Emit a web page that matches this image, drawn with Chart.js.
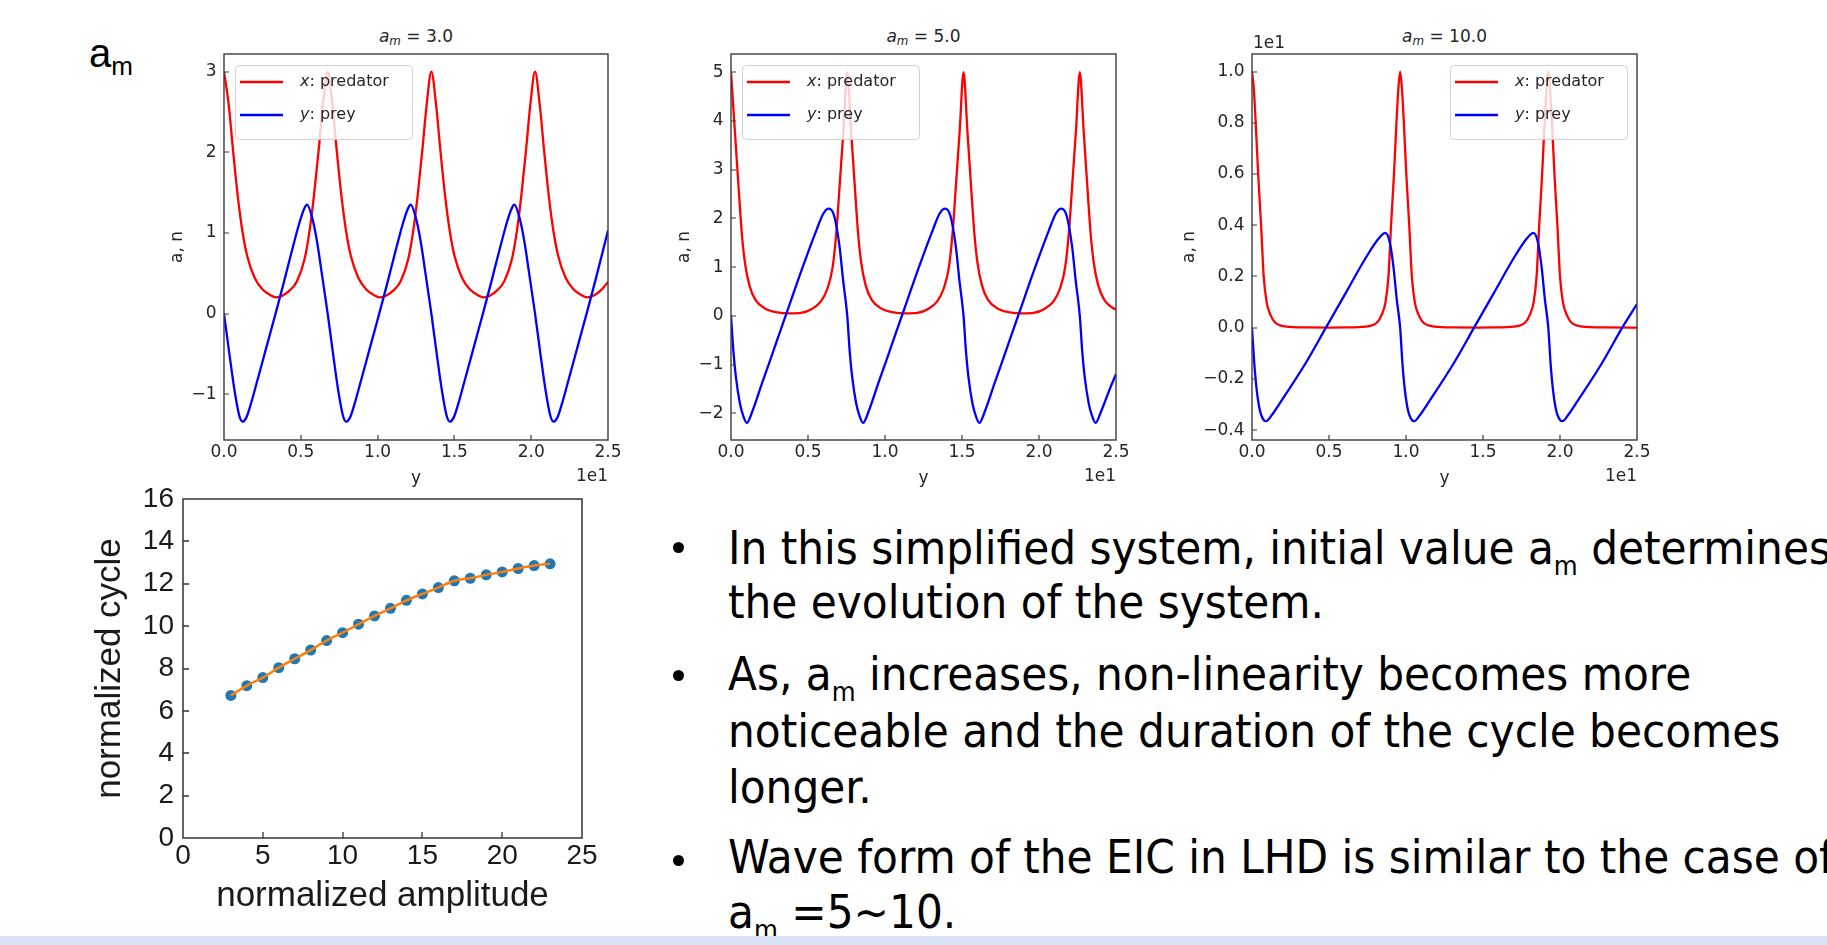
<!DOCTYPE html>
<html><head><meta charset="utf-8">
<script src="https://cdn.jsdelivr.net/npm/chart.js@4.4.1/dist/chart.umd.min.js"></script>
<style>
html,body{margin:0;padding:0;background:#fff;}
body{width:1827px;height:945px;position:relative;overflow:hidden;}
.box{position:absolute;}
.txt{position:absolute;white-space:nowrap;line-height:1;color:#000;}
.slide{font-family:"DejaVu Sans Condensed","DejaVu Sans",sans-serif;font-size:47px;left:728px;}
.slide .sub{font-size:58%;position:relative;top:0.42em;}
.bullet{position:absolute;width:11px;height:11px;border-radius:50%;background:#000;left:673px;}
.ttl{font-family:"DejaVu Sans",sans-serif;font-size:17px;color:#262626;transform:translateX(-50%);top:27.6px;}
.ttl .sub{font-size:70%;position:relative;top:0.3em;}
.am{font-family:"Liberation Sans",Arial,sans-serif;font-size:40px;left:89px;top:33px;}
.am .sub{font-size:65%;position:relative;top:0.3em;}
.strip{position:absolute;left:0;top:936px;width:1827px;height:9px;background:#dae3f3;}
</style>
</head><body>

<div class="txt am">a<span class="sub">m</span></div>

<div class="txt ttl" style="left:416px;"><i>a</i><span class="sub"><i>m</i></span> = 3.0</div>
<div class="txt ttl" style="left:923.5px;"><i>a</i><span class="sub"><i>m</i></span> = 5.0</div>
<div class="txt ttl" style="left:1444.5px;"><i>a</i><span class="sub"><i>m</i></span> = 10.0</div>

<div class="box" style="left:169px;top:30px;"><canvas id="c1" width="459" height="457"></canvas></div>
<div class="box" style="left:676px;top:30px;"><canvas id="c2" width="460" height="457"></canvas></div>
<div class="box" style="left:1181px;top:30px;"><canvas id="c3" width="476" height="457"></canvas></div>
<div class="box" style="left:93px;top:470px;"><canvas id="c4" width="519" height="444"></canvas></div>

<div class="bullet" style="top:541.5px;"></div>
<div class="bullet" style="top:669.5px;"></div>
<div class="bullet" style="top:854.5px;"></div>
<div class="txt slide" style="top:524px;">In this simplified system, initial value a<span class="sub">m</span> determines</div>
<div class="txt slide" style="top:578px;">the evolution of the system.</div>
<div class="txt slide" style="top:650px;">As, a<span class="sub">m</span> increases, non-linearity becomes more</div>
<div class="txt slide" style="top:707px;">noticeable and the duration of the cycle becomes</div>
<div class="txt slide" style="top:763px;">longer.</div>
<div class="txt slide" style="top:833px;">Wave form of the EIC in LHD is similar to the case of</div>
<div class="txt slide" style="top:888px;">a<span class="sub">m</span> =5~10.</div>

<div class="strip"></div>

<script>
// ---------------- data ----------------
const X_TICKS = [0, 5, 10, 15, 20, 25];
const P1_YTICKS = [-1, 0, 1, 2, 3];
const P2_YTICKS = [-2, -1, 0, 1, 2, 3, 4, 5];
const P3_YTICKS = [-4, -2, 0, 2, 4, 6, 8, 10];
const BOT_XTICKS = [0, 5, 10, 15, 20, 25];
const BOT_YTICKS = [0, 2, 4, 6, 8, 10, 12, 14, 16];

// a_m = 3.0  (time, value)
const P1_PRED = [[0,3.0],[0.3,2.6],[0.6,2.0],[0.9,1.45],[1.2,1.02],[1.5,0.72],[2.0,0.44],[2.5,0.30],[3.0,0.23],[3.4,0.20],[3.8,0.22],[4.3,0.29],[4.75,0.40],[5.25,0.68],[5.55,1.0],[5.85,1.45],[6.15,2.0],[6.45,2.6],
[6.75,3.0],[7.05,2.6],[7.35,2.0],[7.65,1.45],[7.95,1.02],[8.25,0.72],[8.75,0.44],[9.25,0.30],[9.75,0.23],[10.15,0.20],[10.55,0.22],[11.05,0.29],[11.5,0.40],[12.0,0.68],[12.3,1.0],[12.6,1.45],[12.9,2.0],[13.2,2.6],
[13.5,3.0],[13.8,2.6],[14.1,2.0],[14.4,1.45],[14.7,1.02],[15.0,0.72],[15.5,0.44],[16.0,0.30],[16.5,0.23],[16.9,0.20],[17.3,0.22],[17.8,0.29],[18.25,0.40],[18.75,0.68],[19.05,1.0],[19.35,1.45],[19.65,2.0],[19.95,2.6],
[20.25,3.0],[20.55,2.6],[20.85,2.0],[21.15,1.45],[21.45,1.02],[21.75,0.72],[22.25,0.44],[22.75,0.30],[23.25,0.23],[23.65,0.20],[24.05,0.22],[24.55,0.29],[25.0,0.39]];
const P1_PREY = [[0,0],[0.35,-0.5],[0.7,-0.97],[1.0,-1.27],[1.2,-1.34],[1.45,-1.29],[1.75,-1.12],[2.1,-0.88],[2.5,-0.6],[2.9,-0.32],[3.4,0.03],[3.9,0.39],[4.45,0.80],[4.95,1.15],[5.2,1.29],[5.4,1.35],[5.75,1.18],[6.05,0.90],[6.35,0.52],
[6.75,0],[7.1,-0.5],[7.45,-0.97],[7.75,-1.27],[7.95,-1.34],[8.2,-1.29],[8.5,-1.12],[8.85,-0.88],[9.25,-0.6],[9.65,-0.32],[10.15,0.03],[10.65,0.39],[11.2,0.80],[11.7,1.15],[11.95,1.29],[12.15,1.35],[12.5,1.18],[12.8,0.90],[13.1,0.52],
[13.5,0],[13.85,-0.5],[14.2,-0.97],[14.5,-1.27],[14.7,-1.34],[14.95,-1.29],[15.25,-1.12],[15.6,-0.88],[16.0,-0.6],[16.4,-0.32],[16.9,0.03],[17.4,0.39],[17.95,0.80],[18.45,1.15],[18.7,1.29],[18.9,1.35],[19.25,1.18],[19.55,0.90],[19.85,0.52],
[20.25,0],[20.6,-0.5],[20.95,-0.97],[21.25,-1.27],[21.45,-1.34],[21.7,-1.29],[22.0,-1.12],[22.35,-0.88],[22.75,-0.6],[23.15,-0.32],[23.65,0.03],[24.15,0.39],[24.7,0.80],[25.0,1.03]];

// a_m = 5.0
const P2_PRED = [[0,5.0],[0.25,3.8],[0.5,2.6],[0.7,1.7],[0.9,1.1],[1.2,0.62],[1.6,0.32],[2.2,0.15],[3.0,0.07],[3.8,0.05],[4.55,0.06],[5.25,0.14],[5.85,0.3],[6.25,0.55],[6.6,1.0],[6.85,1.75],[7.05,2.65],[7.3,3.8],
[7.55,5.0],[7.8,3.8],[8.05,2.6],[8.25,1.7],[8.45,1.1],[8.75,0.62],[9.15,0.32],[9.75,0.15],[10.55,0.07],[11.35,0.05],[12.1,0.06],[12.8,0.14],[13.4,0.3],[13.8,0.55],[14.15,1.0],[14.4,1.75],[14.6,2.65],[14.85,3.8],
[15.1,5.0],[15.35,3.8],[15.6,2.6],[15.8,1.7],[16.0,1.1],[16.3,0.62],[16.7,0.32],[17.3,0.15],[18.1,0.07],[18.9,0.05],[19.65,0.06],[20.35,0.14],[20.95,0.3],[21.35,0.55],[21.7,1.0],[21.95,1.75],[22.15,2.65],[22.4,3.8],
[22.65,5.0],[22.9,3.8],[23.15,2.6],[23.35,1.7],[23.55,1.1],[23.85,0.62],[24.25,0.32],[24.85,0.15],[25.0,0.13]];
const P2_PREY = [[0,0],[0.15,-0.7],[0.32,-1.26],[0.58,-1.8],[0.8,-2.06],[1.02,-2.2],[1.4,-1.95],[2.0,-1.4],[2.5,-0.95],[3.6,0.05],[4.7,1.04],[5.55,1.76],[6.0,2.1],[6.35,2.2],[6.7,2.05],[7.05,1.42],[7.28,0.73],
[7.55,0],[7.7,-0.7],[7.87,-1.26],[8.13,-1.8],[8.35,-2.06],[8.57,-2.2],[8.95,-1.95],[9.55,-1.4],[10.05,-0.95],[11.15,0.05],[12.25,1.04],[13.1,1.76],[13.55,2.1],[13.9,2.2],[14.25,2.05],[14.6,1.42],[14.83,0.73],
[15.1,0],[15.25,-0.7],[15.42,-1.26],[15.68,-1.8],[15.9,-2.06],[16.12,-2.2],[16.5,-1.95],[17.1,-1.4],[17.6,-0.95],[18.7,0.05],[19.8,1.04],[20.65,1.76],[21.1,2.1],[21.45,2.2],[21.8,2.05],[22.15,1.42],[22.38,0.73],
[22.65,0],[22.8,-0.7],[22.97,-1.26],[23.23,-1.8],[23.45,-2.06],[23.67,-2.2],[24.05,-1.95],[24.6,-1.5],[25.0,-1.2]];

// a_m = 10.0 (true values; axis shows them x1e1)
const P3_PRED = [[0,10],[0.12,9.3],[0.24,8.0],[0.4,6.0],[0.59,4.0],[0.76,2.0],[0.95,1.0],[1.2,0.5],[1.5,0.2],[1.9,0.08],[2.5,0.03],[3.5,0.01],[5.0,0.005],[6.1,0.01],[7.1,0.03],[7.72,0.08],[8.12,0.2],[8.42,0.5],[8.67,1.0],[8.86,2.0],[9.03,4.0],[9.22,6.0],[9.38,8.0],[9.5,9.3],
[9.62,10],[9.74,9.3],[9.86,8.0],[10.02,6.0],[10.21,4.0],[10.38,2.0],[10.57,1.0],[10.82,0.5],[11.12,0.2],[11.52,0.08],[12.12,0.03],[13.12,0.01],[14.62,0.005],[15.72,0.01],[16.72,0.03],[17.34,0.08],[17.74,0.2],[18.04,0.5],[18.29,1.0],[18.48,2.0],[18.65,4.0],[18.84,6.0],[19.0,8.0],[19.12,9.3],
[19.24,10],[19.36,9.3],[19.48,8.0],[19.64,6.0],[19.83,4.0],[20.0,2.0],[20.19,1.0],[20.44,0.5],[20.74,0.2],[21.14,0.08],[21.74,0.03],[22.74,0.01],[25.0,0.005]];
const P3_PREY = [[0,0],[0.15,-1.4],[0.3,-2.4],[0.5,-3.2],[0.7,-3.55],[0.9,-3.65],[1.3,-3.4],[1.75,-3.0],[3.5,-1.37],[4.8,0.0],[6.1,1.37],[7.4,2.74],[8.25,3.5],[8.65,3.7],[8.96,3.3],[9.18,2.4],[9.4,1.1],
[9.62,0],[9.77,-1.4],[9.92,-2.4],[10.12,-3.2],[10.32,-3.55],[10.52,-3.65],[10.92,-3.4],[11.37,-3.0],[13.12,-1.37],[14.42,0.0],[15.72,1.37],[17.02,2.74],[17.87,3.5],[18.27,3.7],[18.58,3.3],[18.8,2.4],[19.02,1.1],
[19.24,0],[19.39,-1.4],[19.54,-2.4],[19.74,-3.2],[19.94,-3.55],[20.14,-3.65],[20.54,-3.4],[20.99,-3.0],[22.74,-1.37],[24.04,0.0],[25.0,0.92]];

// normalized amplitude vs normalized cycle
const AMP   = [3,4,5,6,7,8,9,10,11,12,13,14,15,16,17,18,19,20,21,22,23];
const CYCLE = [6.73,7.19,7.57,8.04,8.46,8.87,9.32,9.69,10.09,10.48,10.84,11.22,11.52,11.82,12.14,12.26,12.42,12.56,12.72,12.86,12.94];

// ---------------- helpers ----------------
const TXT = '#262626';
const MF = 'DejaVu Sans';
const minus = s => String(s).replace('-', '\u2212');
const pts = arr => arr.map(p => ({x: p[0], y: p[1]}));

function roundRect(ctx, x, y, w, h, r) {
  ctx.beginPath();
  ctx.moveTo(x + r, y);
  ctx.lineTo(x + w - r, y); ctx.quadraticCurveTo(x + w, y, x + w, y + r);
  ctx.lineTo(x + w, y + h - r); ctx.quadraticCurveTo(x + w, y + h, x + w - r, y + h);
  ctx.lineTo(x + r, y + h); ctx.quadraticCurveTo(x, y + h, x, y + h - r);
  ctx.lineTo(x, y + r); ctx.quadraticCurveTo(x, y, x + r, y);
  ctx.closePath();
}

const mplPlugin = {
  id: 'mpl',
  afterDatasetsDraw(chart, args, o) {
    const {ctx, chartArea: a, scales} = chart;
    ctx.save();
    if (o.legend) {
      const w = 177, h = 74;
      const lx = o.legend === 'left' ? a.left + 11 : a.right - 10 - w;
      const ly = a.top + 11;
      roundRect(ctx, lx + 0.5, ly + 0.5, w, h, 4);
      ctx.fillStyle = 'rgba(255,255,255,0.8)'; ctx.fill();
      ctx.strokeStyle = 'rgba(204,204,204,0.9)'; ctx.lineWidth = 1; ctx.stroke();
      chart.data.datasets.forEach((ds, i) => {
        const ry = ly + 17 + 33 * i;
        ctx.strokeStyle = ds.borderColor; ctx.lineWidth = ds.borderWidth;
        ctx.beginPath(); ctx.moveTo(lx + 5, ry); ctx.lineTo(lx + 48, ry); ctx.stroke();
        ctx.fillStyle = TXT; ctx.textBaseline = 'middle'; ctx.textAlign = 'left';
        ctx.font = 'italic 16px "' + MF + '"';
        ctx.fillText(ds.varName, lx + 65, ry);
        const wv = ctx.measureText(ds.varName).width;
        ctx.font = '16px "' + MF + '"';
        ctx.fillText(ds.desc, lx + 65 + wv, ry);
      });
    }
    ctx.strokeStyle = o.frameColor; ctx.lineWidth = o.tickWidth;
    ctx.beginPath();
    scales.x.ticks.forEach(t => {
      const px = Math.round(scales.x.getPixelForValue(t.value));
      if (px > a.left + 2 && px < a.right - 2) { ctx.moveTo(px, a.bottom); ctx.lineTo(px, a.bottom - o.tickLen); }
    });
    scales.y.ticks.forEach(t => {
      const py = Math.round(scales.y.getPixelForValue(t.value));
      if (py > a.top + 2 && py < a.bottom - 2) { ctx.moveTo(a.left, py); ctx.lineTo(a.left + o.tickLen, py); }
    });
    ctx.stroke();
    ctx.strokeStyle = o.frameColor; ctx.lineWidth = o.frameWidth;
    ctx.strokeRect(a.left, a.top, a.right - a.left, a.bottom - a.top);
    ctx.fillStyle = TXT; ctx.font = '17px "' + MF + '"'; ctx.textBaseline = 'middle';
    if (o.xOffset) { ctx.textAlign = 'right'; ctx.fillText(o.xOffset, a.right, a.bottom + 37); }
    if (o.yOffset) { ctx.textAlign = 'left'; ctx.fillText(o.yOffset, a.left + 1, a.top - 10); }
    ctx.restore();
  }
};

function topPanel(id, pred, prey, yTicks, yMin, yMax, yFmt, yW, legend, yOffset) {
  const tickFont = {family: MF, size: 17, lineHeight: 1};
  new Chart(document.getElementById(id), {
    type: 'line',
    data: {
      datasets: [
        {label: 'x: predator', varName: 'x', desc: ': predator', data: pts(pred), borderColor: '#ff0000', borderWidth: 2.3, pointRadius: 0, cubicInterpolationMode: 'monotone', order: 1},
        {label: 'y: prey', varName: 'y', desc: ': prey', data: pts(prey), borderColor: '#0000ff', borderWidth: 2.3, pointRadius: 0, cubicInterpolationMode: 'monotone', order: 0}
      ]
    },
    options: {
      responsive: false, animation: false, devicePixelRatio: 1,
      layout: {padding: {top: 24, right: 20, left: 0, bottom: 0}},
      plugins: {
        legend: {display: false}, tooltip: {enabled: false},
        mpl: {legend, xOffset: '1e1', yOffset, frameColor: '#3c3c3c', frameWidth: 1.4, tickWidth: 1.2, tickLen: 5}
      },
      scales: {
        x: {
          type: 'linear', min: 0, max: 25,
          grid: {display: false, drawTicks: false}, border: {display: false},
          afterBuildTicks: s => { s.ticks = X_TICKS.map(v => ({value: v})); },
          afterFit: s => { s.height = 47; s.paddingLeft = 0; s.paddingRight = 0; },
          ticks: {autoSkip: false, maxRotation: 0, padding: 4.5, font: tickFont, color: TXT, callback: v => (v / 10).toFixed(1)},
          title: {display: true, text: 'y', font: tickFont, color: TXT, padding: 0}
        },
        y: {
          type: 'linear', min: yMin, max: yMax,
          grid: {display: false, drawTicks: false}, border: {display: false},
          afterBuildTicks: s => { s.ticks = yTicks.map(v => ({value: v})); },
          afterFit: s => { s.width = yW; s.paddingTop = 0; s.paddingBottom = 0; },
          ticks: {autoSkip: false, padding: 7.5, font: tickFont, color: TXT, callback: yFmt},
          title: {display: true, text: 'a, n', font: tickFont, color: TXT, padding: 0}
        }
      }
    },
    plugins: [mplPlugin]
  });
}

topPanel('c1', P1_PRED, P1_PREY, P1_YTICKS, -1.5675, 3.2175, v => minus(v), 55, 'left', null);
topPanel('c2', P2_PRED, P2_PREY, P2_YTICKS, -2.55, 5.375, v => minus(v), 55, 'left', null);
topPanel('c3', P3_PRED, P3_PREY, P3_YTICKS, -4.385, 10.685, v => minus((v / 10).toFixed(1)), 71, 'right', '1e1');

(function () {
  const BF = 'Liberation Sans';
  const tickFont = {family: BF, size: 28, lineHeight: 1};
  const titleFont = {family: BF, size: 35, lineHeight: 1};
  const data = AMP.map((x, i) => ({x, y: CYCLE[i]}));
  new Chart(document.getElementById('c4'), {
    type: 'line',
    data: {
      datasets: [
        {label: 'fit', data: data, borderColor: '#ff7f0e', borderWidth: 2.5, pointRadius: 0, cubicInterpolationMode: 'monotone', order: 0},
        {label: 'data', data: data, showLine: false, pointRadius: 5.5, pointBorderWidth: 0, backgroundColor: '#1f77b4', borderColor: '#1f77b4', order: 1}
      ]
    },
    options: {
      responsive: false, animation: false, devicePixelRatio: 1,
      layout: {padding: {top: 29, right: 30, left: 0, bottom: 0}},
      plugins: {
        legend: {display: false}, tooltip: {enabled: false},
        mpl: {legend: null, xOffset: null, yOffset: null, frameColor: '#333333', frameWidth: 1.5, tickWidth: 1.3, tickLen: 6}
      },
      scales: {
        x: {
          type: 'linear', min: 0, max: 25,
          grid: {display: false, drawTicks: false}, border: {display: false},
          afterBuildTicks: s => { s.ticks = BOT_XTICKS.map(v => ({value: v})); },
          afterFit: s => { s.height = 76; s.paddingLeft = 0; s.paddingRight = 0; },
          ticks: {autoSkip: false, maxRotation: 0, padding: 4, font: tickFont, color: '#1a1a1a'},
          title: {display: true, text: 'normalized amplitude', font: titleFont, color: '#1a1a1a', padding: 0}
        },
        y: {
          type: 'linear', min: 0, max: 16,
          grid: {display: false, drawTicks: false}, border: {display: false},
          afterBuildTicks: s => { s.ticks = BOT_YTICKS.map(v => ({value: v})); },
          afterFit: s => { s.width = 90; s.paddingTop = 0; s.paddingBottom = 0; },
          ticks: {autoSkip: false, padding: 9, font: tickFont, color: '#1a1a1a'},
          title: {display: true, text: 'normalized cycle', font: titleFont, color: '#1a1a1a', padding: 0}
        }
      }
    },
    plugins: [mplPlugin]
  });
})();
</script>
</body></html>
